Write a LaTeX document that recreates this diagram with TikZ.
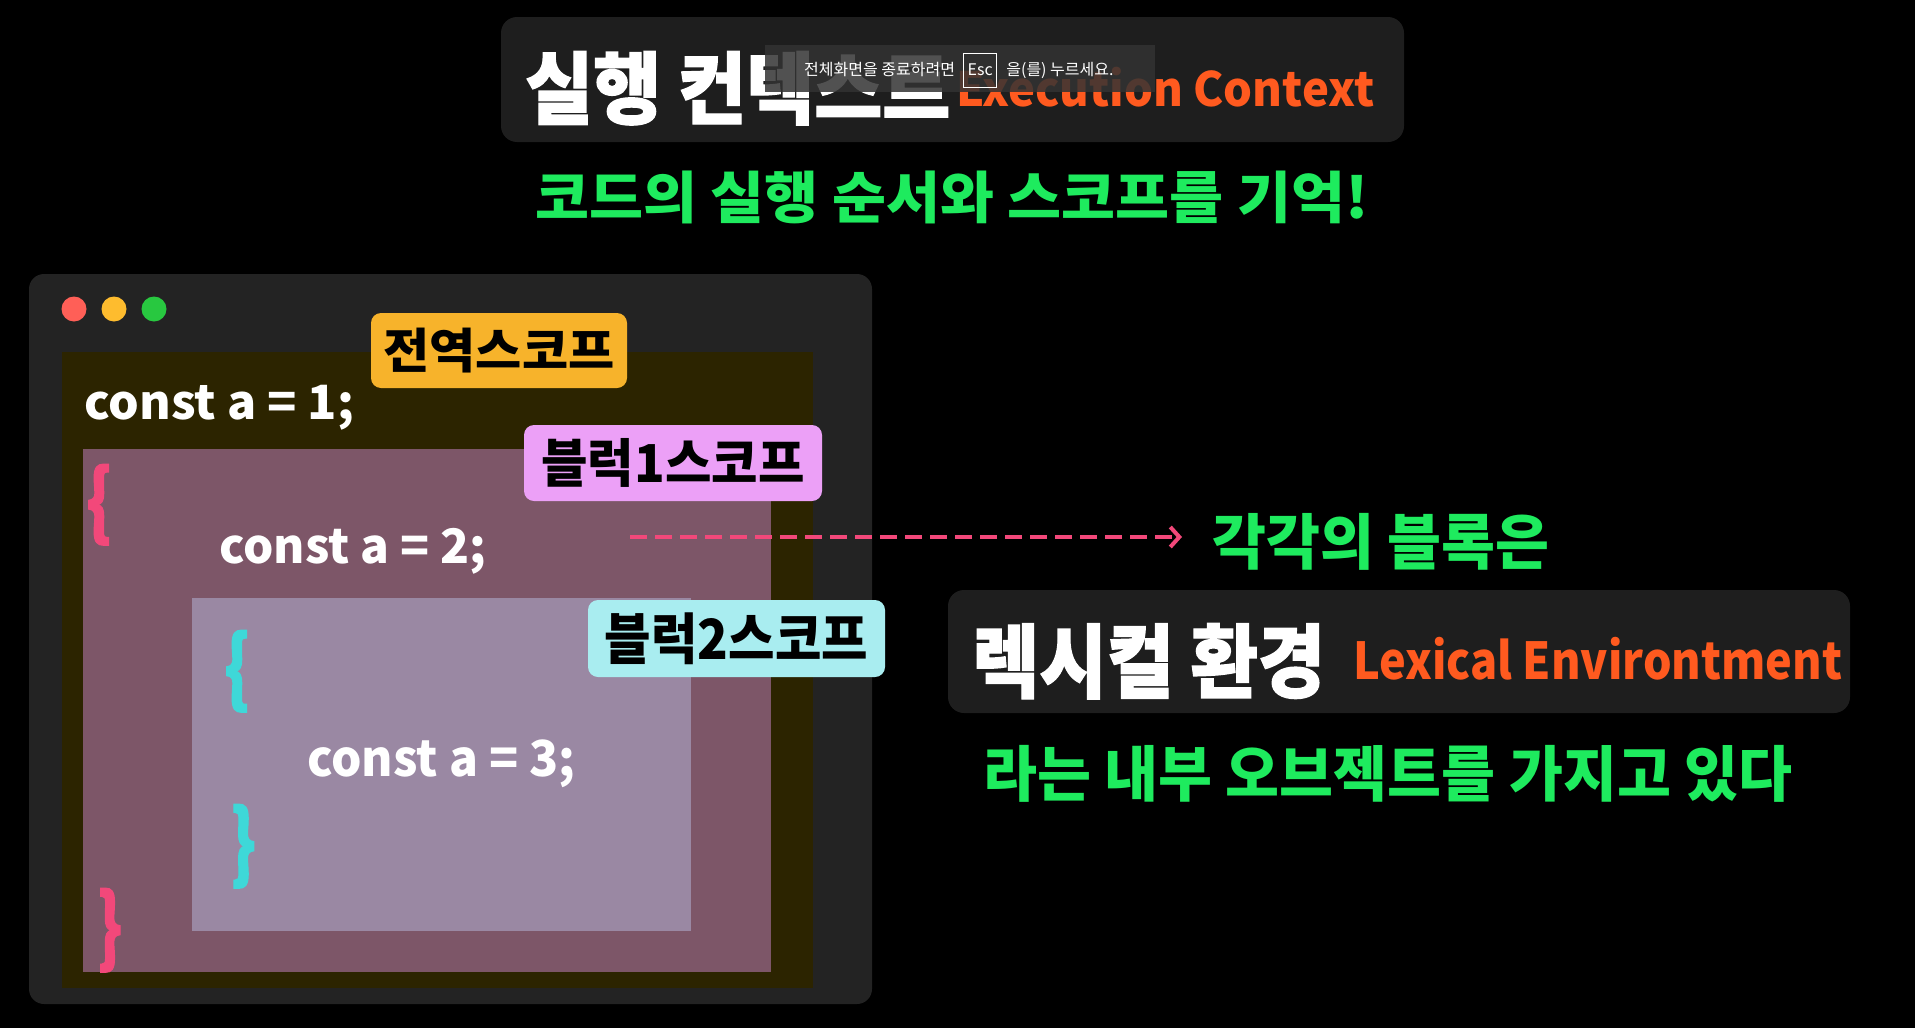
\documentclass[tikz,border=0pt]{standalone}
\usepackage{fontspec}
\setmainfont{Noto Sans CJK KR}
\newfontfamily\heavyfont{Noto Sans CJK KR}[BoldFeatures={FakeBold=1.6}]
\usepackage{graphicx}
\usetikzlibrary{arrows.meta, positioning}

\definecolor{codebg}{HTML}{232323}
\definecolor{boxbg}{HTML}{1E1E1E}
\definecolor{globalbg}{HTML}{2C2400}
\definecolor{blockone}{HTML}{7D5668}
\definecolor{blocktwo}{HTML}{9A88A3}
\definecolor{bracepink}{HTML}{F2487A}
\definecolor{bracecyan}{HTML}{3ED8D8}
\definecolor{tagorange}{HTML}{F7B32B}
\definecolor{tagpink}{HTML}{ECA0F7}
\definecolor{tagcyan}{HTML}{A9EDF0}
\definecolor{hlgreen}{HTML}{1EEB5E}
\definecolor{hlorange}{HTML}{FF5A1F}
\definecolor{dotred}{HTML}{FF5F57}
\definecolor{dotyellow}{HTML}{FEBC2E}
\definecolor{dotgreen}{HTML}{28C840}
\definecolor{escgray}{HTML}{333333}

% text squeezed into its ink box (width, height)
\newcommand{\ink}[3]{\resizebox*{#1pt}{#2pt}{\bfseries #3}}

\begin{document}
\begin{tikzpicture}[x=1pt, y=-1pt,
  txt/.style={inner sep=0pt, anchor=north west},
  tag/.style={rounded corners=10pt, inner sep=0pt, text=black},
  panel/.style={rounded corners=16pt},
  escfont/.style={text=white, inner sep=0pt, font=\fontsize{16}{16}\selectfont}]

\fill[black] (0,0) rectangle (1915,1028);
\useasboundingbox (0,0) rectangle (1915,1028);

% Titel
\fill[boxbg, panel] (501,17) rectangle (1404,142);
\node[txt, text=white] (ectitle) at (525,51) {\ink{425}{74}{\heavyfont 실행 컨텍스트}};
\node[txt, text=hlorange] (ecname) at (956,67) {\ink{418}{40}{Execution Context}};
\node[txt, text=hlgreen] (ecsub) at (535,171) {\ink{833}{53}{코드의 실행 순서와 스코프를 기억!}};

% Vollbild-Hinweis
\fill[escgray, opacity=.85] (765,45) rectangle (1155,92);
\node[escfont, anchor=west] (escmsg) at (804,70) {전체화면을 종료하려면};
\node[escfont, right=8pt of escmsg, draw=white, line width=1pt, minimum width=33pt, minimum height=34pt] (esckey) {Esc};
\node[escfont, right=9pt of esckey] (escrest) {을(를) 누르세요.};

% Code-Fenster
\fill[codebg, rounded corners=15pt] (29,274) rectangle (872,1004);
\fill[dotred] (74,309) circle (12.5);
\fill[dotyellow] (114,309) circle (12.5);
\fill[dotgreen] (154,309) circle (12.5);

% globaler Bereich
\fill[globalbg] (62,352) rectangle (813,988);
\node[txt, text=white] (constone) at (84,385) {\ink{270}{45}{const a = 1;}};

% Block 1
\fill[blockone] (83,449) rectangle (771,972);
\node[txt, text=bracepink] (openone) at (86,464) {\ink{26}{81}{\heavyfont\{}};
\node[txt, text=bracepink] (closeone) at (97,888) {\ink{25}{84}{\heavyfont\}}};
\node[txt, text=white] (consttwo) at (219,528) {\ink{267}{46}{const a = 2;}};

% Block 2
\fill[blocktwo] (192,598) rectangle (691,931);
\node[txt, text=bracecyan] (opentwo) at (224,630) {\ink{26}{82}{\heavyfont\{}};
\node[txt, text=bracecyan] (closetwo) at (230,804) {\ink{26}{84}{\heavyfont\}}};
\node[txt, text=white] (constthree) at (307,740) {\ink{268}{48}{const a = 3;}};

% Etiketten
\node[tag, fill=tagorange, minimum width=256pt, minimum height=75pt] (globaltag) at (499,350.5) {\ink{231}{45}{전역스코프}};
\node[tag, fill=tagpink, minimum width=298pt, minimum height=76pt] (blockonetag) at (673,463) {\ink{263}{49}{블럭1스코프}};
\node[tag, fill=tagcyan, minimum width=297pt, minimum height=77pt] (blocktwotag) at (736.5,638.5) {\ink{263}{52}{블럭2스코프}};

% Erklaerung rechts
\node[txt, text=hlgreen] (eachblock) at (1212,513) {\ink{337}{57}{각각의 블록은}};
\coordinate (dashstart) at (630,537);
\draw[bracepink, line width=4.5pt, dash pattern=on 17pt off 8pt,
  -{Straight Barb[length=9pt, width=20pt, line width=4pt]}, shorten >=30pt]
  (dashstart) -- (dashstart -| eachblock.west);

\fill[boxbg, panel] (948,590) rectangle (1850,713);
\node[txt, text=white] (lexname) at (972,623) {\ink{353}{76}{\heavyfont 렉시컬 환경}};
\node[txt, text=hlorange] (lexeng) at (1353,637) {\ink{489}{43}{Lexical Environtment}};
\node[txt, text=hlgreen] (lexsub) at (983,745) {\ink{809}{57}{라는 내부 오브젝트를 가지고 있다}};

\end{tikzpicture}
\end{document}
